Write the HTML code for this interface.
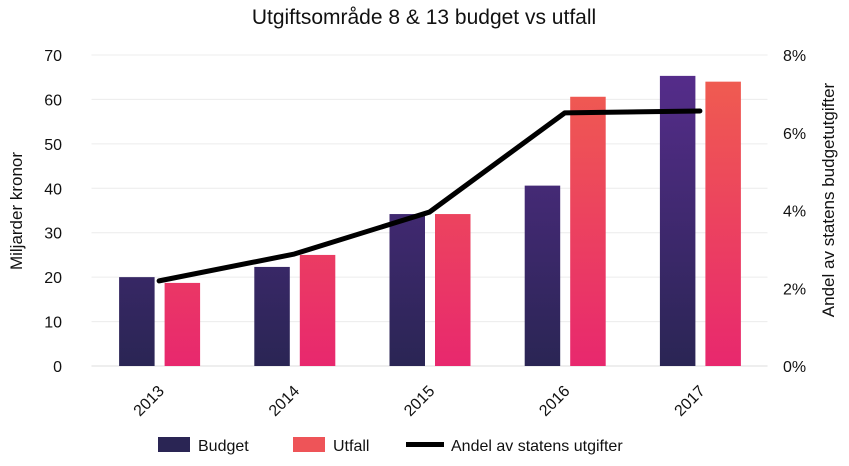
<!DOCTYPE html>
<html><head><meta charset="utf-8"><style>
body{margin:0;background:#fff;}
svg text{font-family:"Liberation Sans",sans-serif;fill:#111;}
</style></head><body>
<svg id="chart" width="849" height="461" viewBox="0 0 849 461" xmlns="http://www.w3.org/2000/svg">
<defs>
<linearGradient id="gB" gradientUnits="userSpaceOnUse" x1="0" y1="55" x2="0" y2="366"><stop offset="0" stop-color="#582d8e"/><stop offset="1" stop-color="#2a2554"/></linearGradient>
<linearGradient id="gU" gradientUnits="userSpaceOnUse" x1="0" y1="55" x2="0" y2="366"><stop offset="0" stop-color="#f0604e"/><stop offset="1" stop-color="#e8286e"/></linearGradient>
</defs>
<text x="424" y="24" text-anchor="middle" font-size="21">Utgiftsområde 8 &amp; 13 budget vs utfall</text>
<g id="grid"></g><g id="bars"></g><g id="line"></g><g id="axes"></g>
<text transform="translate(22,211) rotate(-90)" text-anchor="middle" font-size="17">Miljarder kronor</text>
<text transform="translate(834,200) rotate(-90)" text-anchor="middle" font-size="17">Andel av statens budgetutgifter</text>
<g>
<rect x="158" y="437" width="32" height="15" fill="url(#gB)"/>
<text x="198" y="451" font-size="16">Budget</text>
<rect x="293" y="437" width="32" height="15" fill="#ee5458"/>
<text x="333" y="451" font-size="16">Utfall</text>
<line x1="406" y1="444.5" x2="444" y2="444.5" stroke="#000" stroke-width="5"/>
<text x="451" y="451" font-size="16">Andel av statens utgifter</text>
</g>
</svg>
<script>
const categories=["2013","2014","2015","2016","2017"];
const budget=[20,22.3,34.2,40.6,65.3];
const utfall=[18.7,25,34.2,60.6,64];
const andel=[2.19,2.88,3.96,6.51,6.56];
const leftTicks=[0,10,20,30,40,50,60,70];
const rightTicks=["0%","2%","4%","6%","8%"];
const NS="http://www.w3.org/2000/svg";
const L=91.5,R=767.5,T=55,B=366;
const band=(R-L)/categories.length;
const yL=v=>B-(v/70)*(B-T);
const yR=v=>B-(v/8)*(B-T);
const xc=i=>L+band*(i+0.5);
function mk(tag,attrs,parent,txt){const e=document.createElementNS(NS,tag);for(const k in attrs)e.setAttribute(k,attrs[k]);if(txt!==undefined)e.textContent=txt;document.getElementById(parent).appendChild(e);return e;}
leftTicks.forEach(t=>{
 const g=mk('line',{x1:L,x2:R,y1:yL(t),y2:yL(t),stroke:t===0?'#ddd':'#ececec','stroke-width':1},'grid');
 
 
 const tx=mk('text',{x:62,y:yL(t)+6,'text-anchor':'end','font-size':16},'axes',String(t));
 
 
});
rightTicks.forEach((t,i)=>{
 const tx=mk('text',{x:783,y:yR(i*2)+6,'font-size':16},'axes',t);
 
 
});
const bw=35.5;
categories.forEach((c,i)=>{
 const b=mk('rect',{x:xc(i)-40,y:yL(budget[i]),width:bw,height:B-yL(budget[i]),fill:'url(#gB)'},'bars');
 
 
 const u=mk('rect',{x:xc(i)+5.5,y:yL(utfall[i]),width:bw,height:B-yL(utfall[i]),fill:'url(#gU)'},'bars');
 
 
 const x=xc(i)+6,y=392;
 const tx=mk('text',{x:x,y:y,'text-anchor':'end','font-size':16,transform:`rotate(-45 ${x} ${y})`},'axes',c);
 
 
});
const pl=mk('polyline',{points:andel.map((v,i)=>xc(i)+','+yR(v)).join(' '),fill:'none',stroke:'#000','stroke-width':5,'stroke-linejoin':'round','stroke-linecap':'round'},'line');


</script>
</body></html>
